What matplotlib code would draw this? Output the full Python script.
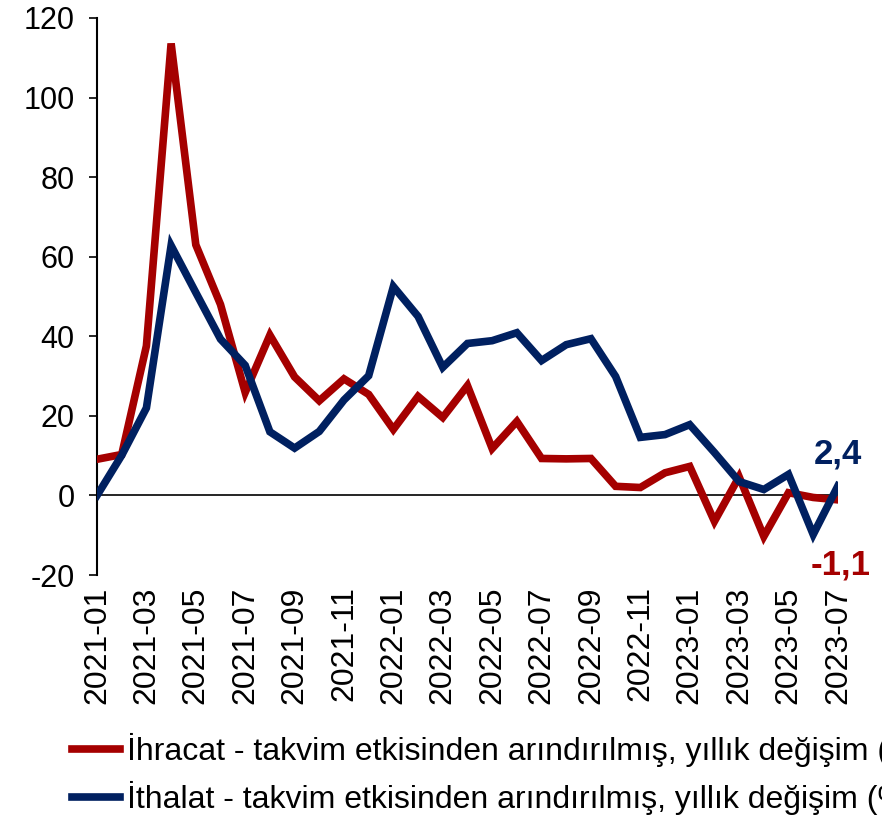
import matplotlib
matplotlib.use("Agg")
import matplotlib.pyplot as plt

plt.rcParams['font.family'] = ['Liberation Sans', 'DejaVu Sans']
plt.rcParams['axes.unicode_minus'] = False

months = ['2021-01', '2021-02', '2021-03', '2021-04', '2021-05', '2021-06',
          '2021-07', '2021-08', '2021-09', '2021-10', '2021-11', '2021-12',
          '2022-01', '2022-02', '2022-03', '2022-04', '2022-05', '2022-06',
          '2022-07', '2022-08', '2022-09', '2022-10', '2022-11', '2022-12',
          '2023-01', '2023-02', '2023-03', '2023-04', '2023-05', '2023-06',
          '2023-07']

ihracat = [9.1, 10.3, 37.6, 113.6, 63.0, 48.0, 25.9, 40.3, 29.8, 23.8, 29.3, 25.4,
           16.6, 24.9, 19.6, 27.6, 11.8, 18.6, 9.3, 9.2, 9.3, 2.3, 2.0, 5.7,
           7.3, -6.5, 4.7, -10.3, 0.7, -0.5, -1.1]

ithalat = [0.0, 10.1, 22.0, 62.8, 51.0, 39.3, 32.7, 16.0, 11.9, 16.1, 24.0, 30.1,
           52.5, 45.0, 32.2, 38.2, 38.9, 40.9, 33.9, 37.9, 39.4, 29.9, 14.6, 15.3,
           17.8, 10.8, 3.5, 1.5, 5.3, -9.8, 2.4]

red = '#A50000'
blue = '#002060'

fig = plt.figure(figsize=(8.82, 8.18), dpi=100)
ax = fig.add_axes([0.110, 0.297, 0.840, 0.681])

x = list(range(len(months)))
ax.axhline(0, color='black', lw=1.2, zorder=1)
ax.plot(x, ihracat, color=red, lw=5.5, solid_joinstyle='miter', zorder=3,
        label='İhracat - takvim etkisinden arındırılmış, yıllık değişim (%)')
ax.plot(x, ithalat, color=blue, lw=5.5, solid_joinstyle='miter', zorder=4,
        label='İthalat - takvim etkisinden arındırılmış, yıllık değişim (%)')

ax.set_xlim(0, len(months) - 1)
ax.set_ylim(-20, 120)
ax.set_yticks(range(-20, 121, 20))
ax.set_xticks(x[::2])
ax.set_xticklabels(months[::2], rotation=90, fontsize=23)
ax.tick_params(axis='y', labelsize=22, direction='out', length=6, width=1.2, pad=10)
ax.tick_params(axis='x', length=0, pad=8)

for s in ['top', 'right', 'bottom']:
    ax.spines[s].set_visible(False)
ax.spines['left'].set_linewidth(1.5)

ax.annotate('2,4', (x[-1], ithalat[-1]), xytext=(0, 11), textcoords='offset points',
            ha='center', va='bottom', color=blue, fontsize=25, fontweight='bold')
ax.annotate('-1,1', (x[-1], ihracat[-1]), xytext=(2, -35), textcoords='offset points',
            ha='center', va='top', color=red, fontsize=25, fontweight='bold',
            annotation_clip=False)

fig.legend(loc='upper left', bbox_to_anchor=(0.082, 0.104), frameon=False,
           fontsize=23, handlelength=1.5, handletextpad=0.22, labelspacing=0.45,
           borderaxespad=0, borderpad=0)

fig.savefig('out.png', dpi=100)
